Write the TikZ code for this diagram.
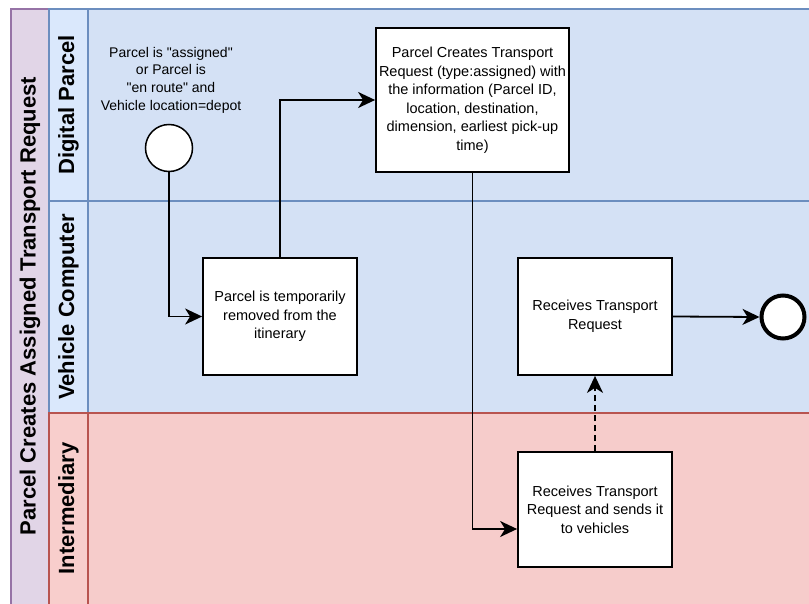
\documentclass[tikz,border=0pt]{standalone}
\usepackage{fontspec}
\setmainfont{Liberation Sans}
\usetikzlibrary{arrows.meta}

\definecolor{poolfill}{HTML}{E1D5E7}
\definecolor{poolline}{HTML}{9673A6}
\definecolor{bluehead}{HTML}{DAE8FC}
\definecolor{bluebody}{HTML}{D4E1F5}
\definecolor{blueline}{HTML}{6C8EBF}
\definecolor{redhead}{HTML}{F8CECC}
\definecolor{redbody}{HTML}{F6CCCB}
\definecolor{redline}{HTML}{B85450}

\tikzset{
  lanehead/.style={font=\bfseries\fontsize{22}{26}\selectfont, rotate=90, inner sep=0pt},
  task/.style={draw=black, line width=1.8pt, fill=white, align=center,
               font=\fontsize{14.5}{18.5}\selectfont, inner sep=0pt},
  startev/.style={circle, draw=black, line width=1.5pt, fill=white,
                  minimum size=47pt, inner sep=0pt},
  endev/.style={circle, draw=black, line width=4pt, fill=white,
                minimum size=43pt, inner sep=0pt},
  flow/.style={line width=1.8pt,
               -{Stealth[length=17pt,width=16pt,inset=5pt]}},
  msgflow/.style={flow, dash pattern=on 6pt off 4pt},
  evlabel/.style={align=center, font=\fontsize{14}{17.7}\selectfont, inner sep=0pt}
}

\begin{document}
\begin{tikzpicture}[x=1pt, y=-1pt]
  \useasboundingbox (0,0) rectangle (809,604);

  % pool header band
  \draw[fill=poolfill, draw=poolline, line width=1.2pt] (11,9) rectangle (49,612);
  \node[lanehead] (pool) at (30,306) {Parcel Creates Assigned Transport Request};

  % lane: Digital Parcel
  \draw[fill=bluebody, draw=blueline, line width=1.2pt] (88,9) rectangle (820,201);
  \draw[fill=bluehead, draw=blueline, line width=1.2pt] (49,9) rectangle (88,201);
  \node[lanehead] (laneA) at (68.5,105) {Digital Parcel};

  % lane: Vehicle Computer
  \draw[fill=bluebody, draw=blueline, line width=1.2pt] (88,201) rectangle (820,413);
  \draw[fill=bluehead, draw=blueline, line width=1.2pt] (49,201) rectangle (88,413);
  \node[lanehead] (laneB) at (68.5,307) {Vehicle Computer};

  % lane: Intermediary
  \draw[fill=redbody, draw=redline, line width=1.2pt] (88,413) rectangle (820,612);
  \draw[fill=redhead, draw=redline, line width=1.2pt] (49,413) rectangle (88,612);
  \node[lanehead] (laneC) at (68.5,508.5) {Intermediary};

  % events
  \node[evlabel] (startlbl) at (171,80)
    {Parcel is \textquotedbl assigned\textquotedbl\\or Parcel is\\\textquotedbl en route\textquotedbl\ and\\Vehicle location=depot};
  \node[startev] (start) at (169,148) {};
  \node[endev] (end) at (783,317) {};

  % tasks
  \node[task, minimum width=154pt, minimum height=117pt] (remove) at (280,316.5)
    {Parcel is temporarily\\removed from the\\itinerary};
  \node[task, minimum width=193pt, minimum height=144pt] (create) at (472.5,100)
    {Parcel Creates Transport\\Request (type:assigned) with\\the information (Parcel ID,\\location, destination,\\dimension, earliest pick-up\\time)};
  \node[task, minimum width=154pt, minimum height=117pt] (receive) at (595,316.5)
    {Receives Transport\\Request};
  \node[task, minimum width=154pt, minimum height=115pt] (forward) at (595,509.5)
    {Receives Transport\\Request and sends it\\to vehicles};

  % connectors
  \draw[flow] (start.south) |- (remove.west);
  \draw[flow] (remove.north) |- (create.west);
  \draw[flow] (create.south) |- ([yshift=-19.5pt]forward.west);
  \draw[msgflow] (forward.north) -- (receive.south);
  \draw[flow] (receive.east) -- (end.west);
\end{tikzpicture}
\end{document}
